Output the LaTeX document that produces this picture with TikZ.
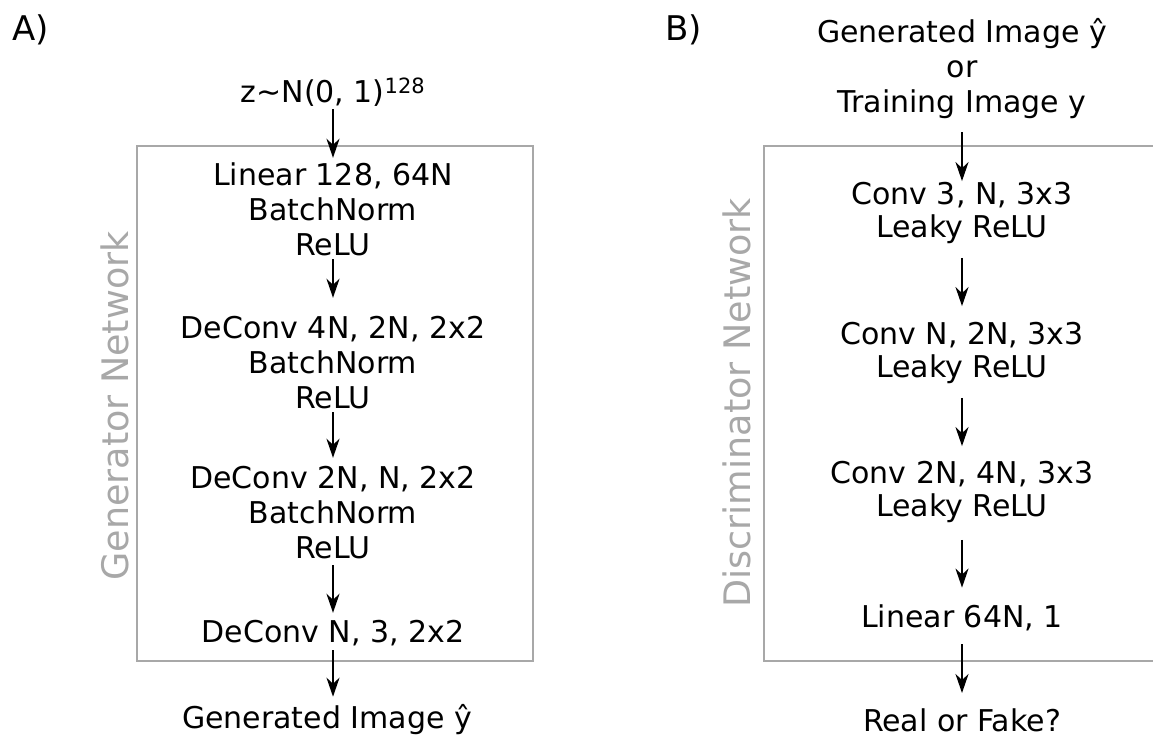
\documentclass[tikz,border=0pt]{standalone}
\usepackage{fontspec}
\setmainfont{DejaVu Sans}
\usetikzlibrary{arrows.meta}
\definecolor{boxgray}{HTML}{A8A8A8}
\tikzset{
  lblL/.style={font=\fontsize{30}{35}\selectfont, align=center, inner sep=0pt, anchor=center},
  lblR/.style={font=\fontsize{30}{32}\selectfont, align=center, inner sep=0pt, anchor=center},
  arr/.style={line width=2.2pt, -{Stealth[length=19pt,width=13pt,inset=6pt]}},
  frame/.style={draw=boxgray, line width=2.5pt},
  side/.style={font=\fontsize{36.5}{40}\selectfont, text=boxgray, rotate=90, inner sep=0pt, anchor=base},
  panel/.style={font=\fontsize{34}{40}\selectfont, inner sep=0pt, anchor=base west},
}
\begin{document}
\begin{tikzpicture}[x=1pt,y=-1pt]
\useasboundingbox[fill=white] (0,0) rectangle (1153,736);
\begin{scope}
  \clip (0,0) rectangle (1153,736);
  \draw[frame] (137,146) rectangle (533,661);
  \draw[frame] (764,146) rectangle (1180,661);
\end{scope}

% panel labels
\node[panel] (pA) at (12,40) {A)};
\node[panel] (pB) at (665,40) {B)};

% side labels
\node[side] (gen) at (128,406) {Generator Network};
\node[side] (dis) at (750,403) {Discriminator Network};

% generator column
\node[lblL] (z) at (333,95) {\strut z\textasciitilde N(0, 1)\textsuperscript{128}};
\node[lblL] (g1) at (333,213) {\strut Linear 128, 64N\\\strut BatchNorm\\\strut ReLU};
\node[lblL] (g2) at (333,366) {\strut DeConv 4N, 2N, 2x2\\\strut BatchNorm\\\strut ReLU};
\node[lblL] (g3) at (333,516) {\strut DeConv 2N, N, 2x2\\\strut BatchNorm\\\strut ReLU};
\node[lblL] (g4) at (333,635) {\strut DeConv N, 3, 2x2};
\node[lblL, anchor=base] (gout) at (327,728) {Generated Image ŷ};

\draw[arr, shorten <=-3.5pt, shorten >=2.5pt] (z) -- (g1);
\draw[arr, shorten <=-6.5pt, shorten >=15.5pt] (g1) -- (g2);
\draw[arr, shorten <=-6.5pt, shorten >=5.5pt] (g2) -- (g3);
\draw[arr, shorten <=-3.5pt, shorten >=4.5pt] (g3) -- (g4);
\draw[arr, shorten <=-2.5pt, shorten >=7pt] (g4) -- (g4 |- gout.north);

% discriminator column
\node[lblL] (din) at (962,70) {\strut Generated Image ŷ\\\strut or\\\strut Training Image y};
\node[lblR] (d1) at (962,214.6) {\strut Conv 3, N, 3x3\\\strut Leaky ReLU};
\node[lblR] (d2) at (962,354.6) {\strut Conv N, 2N, 3x3\\\strut Leaky ReLU};
\node[lblR] (d3) at (962,493.6) {\strut Conv 2N, 4N, 3x3\\\strut Leaky ReLU};
\node[lblR] (d4) at (962,620.6) {\strut Linear 64N, 1};
\node[lblR, anchor=base] (dout) at (962,731) {Real or Fake?};

\draw[arr, shorten <=9.5pt, shorten >=0.6pt] (din) -- (d1);
\draw[arr, shorten <=10.4pt, shorten >=15.6pt] (d1) -- (d2);
\draw[arr, shorten <=10.4pt, shorten >=14.6pt] (d2) -- (d3);
\draw[arr, shorten <=13.4pt, shorten >=16.6pt] (d3) -- (d4);
\draw[arr, shorten <=7.4pt, shorten >=15pt] (d4) -- (dout);
\end{tikzpicture}
\end{document}
